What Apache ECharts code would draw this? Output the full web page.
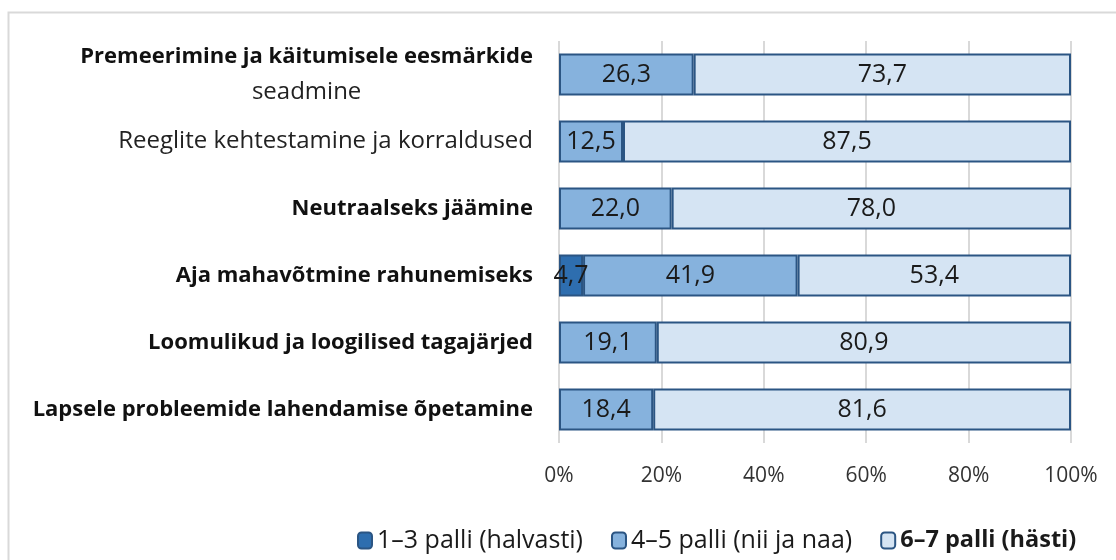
<!DOCTYPE html>
<html><head><meta charset="utf-8">
<script src="https://cdn.jsdelivr.net/npm/echarts@6/dist/echarts.min.js"></script>
<style>html,body{margin:0;padding:0;background:#fff}#c{width:1116px;height:560px}</style>
</head><body><div id="c"></div>
<script>
const categories = [
  'Premeerimine ja käitumisele eesmärkide seadmine',
  'Reeglite kehtestamine ja korraldused',
  'Neutraalseks jäämine',
  'Aja mahavõtmine rahunemiseks',
  'Loomulikud ja loogilised tagajärjed',
  'Lapsele probleemide lahendamise õpetamine'
];
const seriesNames = ['1–3 palli (halvasti)', '4–5 palli (nii ja naa)', '6–7 palli (hästi)'];
const bad = [null, null, null, 4.7, null, null];
const mid = [26.3, 12.5, 22.0, 41.9, 19.1, 18.4];
const good = [73.7, 87.5, 78.0, 53.4, 80.9, 81.6];
const xTicks = [0, 20, 40, 60, 80, 100];

const colors = ['#2E6EAF', '#86B2DD', '#D5E4F3'];
const borderCol = '#2B5583';
const regFont = '"Open Sans", sans-serif';
const boldFont = '"Open Sans", sans-serif';

function catLabel(v) {
  if (v === categories[0]) return '{b|Premeerimine ja käitumisele eesmärkide}\n{n|seadmine}';
  if (v === categories[1]) return '{n|' + v + '}';
  return '{b|' + v + '}';
}
const chart = echarts.init(document.getElementById('c'), null, {renderer: 'canvas'});
const mk = (name, data, i) => ({
  name, type: 'bar', stack: 'a', data,
  barWidth: 42,
  itemStyle: {color: colors[i], borderColor: borderCol, borderWidth: 2},
  label: {
    show: true, position: 'inside', color: '#1a1a1a', fontFamily: regFont, fontSize: 25,
    formatter: p => p.value == null ? '' : p.value.toFixed(1).replace('.', ',')
  },
  labelLayout: {hideOverlap: false}
});
chart.setOption({
  animation: false,
  graphic: [{type: 'rect', shape: {x: 8.5, y: 12.5, width: 1300, height: 700},
    style: {fill: 'none', stroke: '#d9d9d9', lineWidth: 2}}],
  grid: {left: 559, right: 45, top: 41, bottom: 117},
  legend: {
    left: 352, top: 523, itemWidth: 14, itemHeight: 16, itemGap: 28,
    data: seriesNames.map((n, i) => ({name: n, itemStyle: {color: colors[i], borderColor: borderCol, borderWidth: 2}})),
    formatter: n => n === seriesNames[2] ? '{b|' + n + '}' : '{n|' + n + '}',
    textStyle: {
      rich: {
        n: {fontFamily: regFont, fontSize: 25, color: '#1a1a1a'},
        b: {fontFamily: boldFont, fontSize: 23.5, fontWeight: 'bold', color: '#1a1a1a'}
      }
    }
  },
  xAxis: {
    type: 'value', min: 0, max: 100, interval: 20,
    axisLine: {show: false}, axisTick: {show: false},
    axisLabel: {formatter: v => v + '%', color: '#333', fontFamily: regFont, fontSize: 21, margin: 23},
    splitLine: {lineStyle: {color: '#d9d9d9', width: 2}}
  },
  yAxis: {
    type: 'category', data: categories, inverse: true,
    axisLine: {show: false}, axisTick: {show: false},
    axisLabel: {
      margin: 26, formatter: catLabel,
      rich: {
        b: {fontFamily: boldFont, fontSize: 22, fontWeight: 'bold', color: '#111', lineHeight: 35},
        n: {fontFamily: regFont, fontSize: 24, color: '#222', lineHeight: 35, align: 'center'}
      }
    }
  },
  series: [mk(seriesNames[0], bad, 0), mk(seriesNames[1], mid, 1), mk(seriesNames[2], good, 2)]
});
</script></body></html>
